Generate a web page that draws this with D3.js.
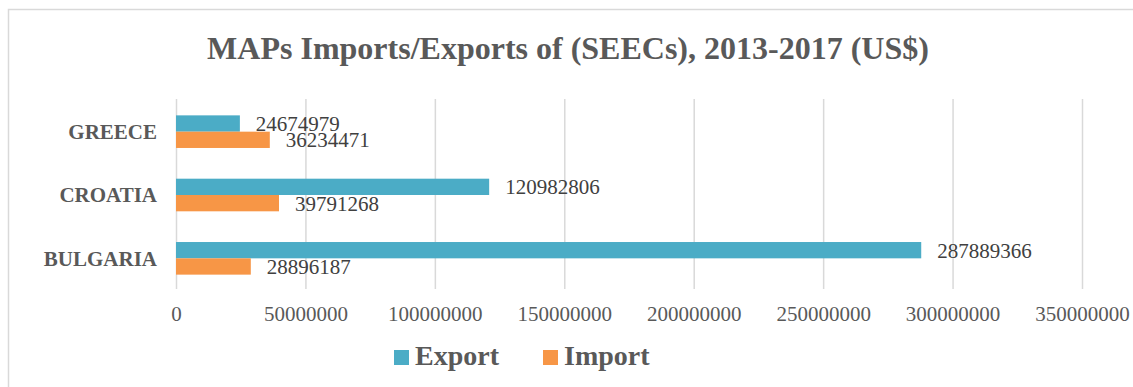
<!DOCTYPE html>
<html>
<head>
<meta charset="utf-8">
<script src="https://cdn.jsdelivr.net/npm/d3@7"></script>
<style>
  body { margin: 0; background: #fff; }
  text { font-family: "Liberation Serif", "Times New Roman", serif; }
</style>
</head>
<body>
<svg id="graphic" width="1133" height="387"></svg>
<script>
// data
let countries = ["GREECE", "CROATIA", "BULGARIA"];
let exportValues = [24674979, 120982806, 287889366];
let importValues = [36234471, 39791268, 28896187];
let seriesNames = ["Export", "Import"];
let seriesColors = ["#4BACC6", "#F79646"];
let xTicks = [0, 50000000, 100000000, 150000000, 200000000, 250000000, 300000000, 350000000];

let dta = countries.map((c, i) => ({
    country: c,
    values: [
        { series: "Export", value: exportValues[i] },
        { series: "Import", value: importValues[i] }
    ]
}));

let svg = d3.select('#graphic');

// chart border
svg.append('rect')
    .attr('x', 8.5).attr('y', 9.5)
    .attr('width', 1140).attr('height', 400)
    .attr('fill', 'none')
    .attr('stroke', '#d9d9d9')
    .attr('stroke-width', 1.5);

svg.append('text')
    .attr('x', 568).attr('y', 59)
    .attr('text-anchor', 'middle')
    .attr('font-size', 32)
    .attr('font-weight', 'bold')
    .attr('fill', '#595959')
    .text('MAPs Imports/Exports of (SEECs), 2013-2017 (US$)');

let xScale = d3.scaleLinear()
    .domain([0, 350000000])
    .range([176, 1082]);

let yScale = d3.scaleBand()
    .domain(countries)
    .range([100, 290])
    .paddingInner(0.485)
    .paddingOuter(0.2425);

let subScale = d3.scaleBand()
    .domain(seriesNames)
    .range([0, yScale.bandwidth()]);

let colour = d3.scaleOrdinal().domain(seriesNames).range(seriesColors);

// gridlines + ticks
let xAxis = d3.axisBottom(xScale)
    .tickValues(xTicks)
    .tickSize(190)
    .tickSizeOuter(0)
    .tickFormat(d3.format('d'))
    .tickPadding(17);

let gx = svg.append('g')
    .attr('transform', 'translate(0, 99)')
    .call(xAxis);
gx.select('.domain').remove();
gx.selectAll('line').attr('stroke', '#d9d9d9').attr('stroke-width', 1.5);
gx.selectAll('text')
    .attr('font-size', 21)
    .attr('fill', '#595959')
    .style('font-family', '"Liberation Serif", serif');

// category labels
svg.selectAll('.cat_label')
    .data(countries)
    .enter()
    .append('text')
    .classed('cat_label', true)
    .attr('x', 157)
    .attr('y', d => yScale(d) + yScale.bandwidth() / 2)
    .attr('dy', '0.35em')
    .attr('text-anchor', 'end')
    .attr('font-size', 21)
    .attr('font-weight', 'bold')
    .attr('fill', '#595959')
    .text(d => d);

let groups = svg.selectAll('.group')
    .data(dta)
    .enter()
    .append('g')
    .classed('group', true)
    .attr('transform', d => `translate(0, ${yScale(d.country)})`);

groups.selectAll('.data_point')
    .data(d => d.values)
    .enter()
    .append('rect')
    .classed('data_point', true)
    .attr('x', xScale(0))
    .attr('y', d => subScale(d.series))
    .attr('width', d => xScale(d.value) - xScale(0))
    .attr('height', subScale.bandwidth())
    .attr('fill', d => colour(d.series));

groups.selectAll('.value_label')
    .data(d => d.values)
    .enter()
    .append('text')
    .classed('value_label', true)
    .attr('x', d => xScale(d.value) + 16)
    .attr('y', d => subScale(d.series) + subScale.bandwidth() / 2)
    .attr('dy', '0.36em')
    .attr('font-size', 21)
    .attr('fill', '#404040')
    .text(d => d.value);

// legend
let legendX = [394, 543];
let legend = svg.selectAll('.legend')
    .data(seriesNames)
    .enter()
    .append('g')
    .classed('legend', true)
    .attr('transform', (d, i) => `translate(${legendX[i]}, 350)`);

legend.append('rect')
    .attr('width', 15).attr('height', 15)
    .attr('fill', d => colour(d));

legend.append('text')
    .attr('x', 21).attr('y', 15)
    .attr('font-size', 28)
    .attr('font-weight', 'bold')
    .attr('fill', '#595959')
    .text(d => d);
</script>
</body>
</html>
